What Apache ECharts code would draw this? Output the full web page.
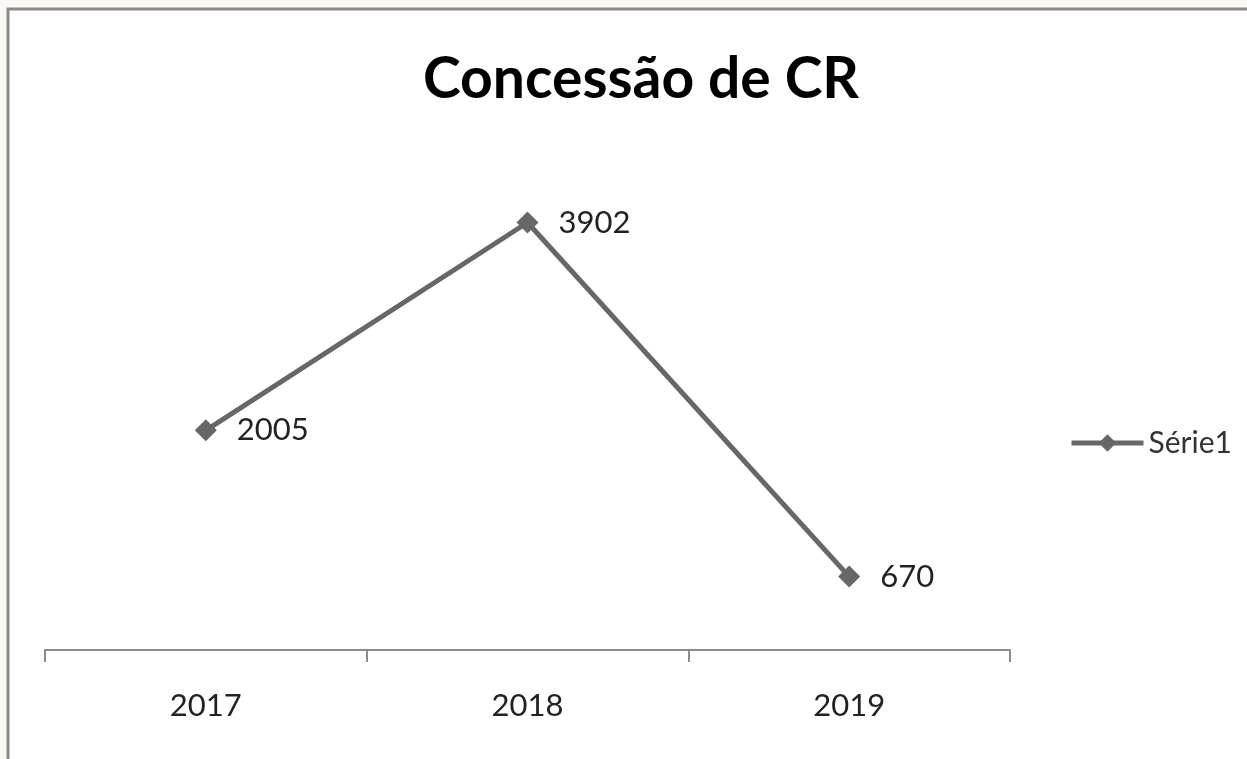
<!DOCTYPE html>
<html lang="pt">
<head>
	<meta charset="UTF-8">
	<title>Concessão de CR</title>
	<style>
		html, body{
			margin: 0;
			padding: 0;
			background: #fbf7f2;
		}
		#main{
			width: 1247px;
			height: 759px;
		}
	</style>
	<script src="https://cdn.jsdelivr.net/npm/echarts@6/dist/echarts.min.js"></script>
</head>
<body>
	<div id="main"></div>
	<script>
		// dados do gráfico
		var anos = ['2017', '2018', '2019'];
		var serie1 = [2005, 3902, 670];
		var nomeSerie = 'Série1';

		var myChart = echarts.init(document.getElementById('main'));

		var cinza = '#676767';
		var fonte = 'Lato, "Open Sans", sans-serif';

		var option = {
			backgroundColor: 'transparent',
			animation: false,
			graphic: [{
				type: 'rect',
				shape: {x: 8, y: 9, width: 1260, height: 760},
				style: {fill: '#fff', stroke: '#8a8a8a', lineWidth: 3},
				z: -10
			}],
			title: {
				text: 'Concessão de CR',
				left: 636,
				textAlign: 'center',
				top: 46,
				textStyle: {
					fontFamily: fonte,
					fontWeight: 'bold',
					fontSize: 57,
					color: '#000'
				}
			},
			legend: {
				data: [nomeSerie],
				orient: 'vertical',
				left: 1064,
				top: 423,
				itemWidth: 72,
				itemHeight: 22,
				itemGap: 4,
				lineStyle: {width: 5},
				textStyle: {fontFamily: fonte, fontSize: 30, color: '#333'}
			},
			grid: {
				left: 45,
				right: 237,
				top: 157,
				bottom: 109
			},
			xAxis: {
				type: 'category',
				data: anos,
				boundaryGap: true,
				axisLine: {lineStyle: {color: '#8c8c8c', width: 2}},
				axisTick: {show: true, length: 12, lineStyle: {color: '#8c8c8c', width: 2}},
				axisLabel: {margin: 40, fontFamily: fonte, fontSize: 31, color: '#222'}
			},
			yAxis: {
				type: 'value',
				min: 0,
				max: 4500,
				show: false
			},
			series: [{
				name: nomeSerie,
				type: 'line',
				data: serie1,
				symbol: 'diamond',
				symbolSize: 22,
				itemStyle: {color: cinza},
				lineStyle: {color: cinza, width: 5},
				label: {
					show: true,
					position: 'right',
					distance: 20,
					fontFamily: fonte,
					fontSize: 31,
					color: '#222'
				}
			}]
		};

		myChart.setOption(option);
	</script>
</body>
</html>
